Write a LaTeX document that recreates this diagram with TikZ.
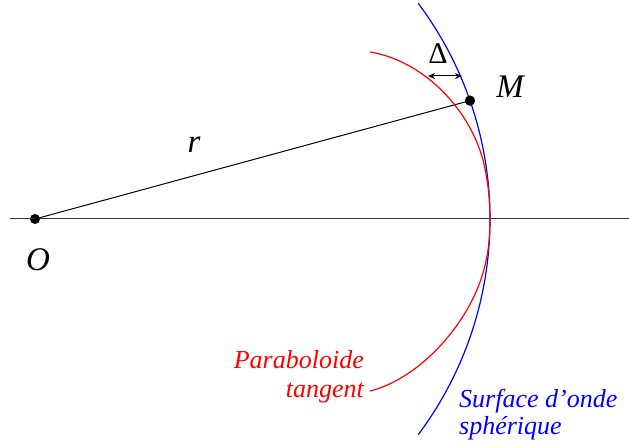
\documentclass[tikz,border=0pt]{standalone}
\usepackage{fontspec}
\setmainfont{Liberation Serif}
\newfontfamily\tms{Liberation Serif}
\usetikzlibrary{arrows.meta,calc}
\begin{document}
\begin{tikzpicture}[x=1pt,y=1pt,
  big/.style={inner sep=0pt,font=\tms\fontsize{33}{36}\selectfont\itshape},
  dot/.style={circle,fill=black,inner sep=0pt,minimum size=10pt}]
\useasboundingbox (0,0) rectangle (629,445);
\coordinate (C) at (130,226);
\coordinate (L) at (10,226);
\coordinate (R) at (629,226);
\node[dot] (O) at (35,226) {};
\node[dot] (M) at ($(C)+(19.2:360)$) {};
% axis
\draw[line width=1pt,black!80] (L) -- (R);
% radius
\draw[line width=1pt] (O.center) -- (M.center);
% sphere
\draw[blue,line width=1.2pt] ($(C)+(-36.8:360)$) arc[start angle=-36.8,end angle=36.8,radius=360];
% paraboloid
\draw[red,line width=1.2pt] (370,393) .. controls (420,385) and (468,340) .. (483,285)
   .. controls (488,265) and (490,245) .. (490,226)
   .. controls (490,205) and (488,185) .. (480,163)
   .. controls (462,113) and (415,65) .. (370,54);
\node[dot] at (M) {};
% delta
\coordinate (D1) at (428,369);
\coordinate (D2) at (462,369);
\draw[line width=1pt,{Stealth[length=7pt,width=6pt]}-{Stealth[length=7pt,width=6pt]}] (D1) -- (D2);
\node[inner sep=0pt,font=\tms\fontsize{30}{32}\selectfont] (Dl) at (438,391) {Δ};
\node[big] (Ml) at (510,358) {M};
\node[big] (Ol) at (38,185) {O};
\node[big] (rl) at (194,300) {r};
\node[inner sep=0pt,red,align=right,anchor=north east,font=\tms\fontsize{26}{29}\selectfont\itshape] (P) at (364,95) {Paraboloide\\tangent};
\node[inner sep=0pt,blue,align=left,anchor=north west,font=\tms\fontsize{26}{27}\selectfont\itshape] (S) at (459,56) {Surface d’onde\\sphérique};
\end{tikzpicture}
\end{document}
